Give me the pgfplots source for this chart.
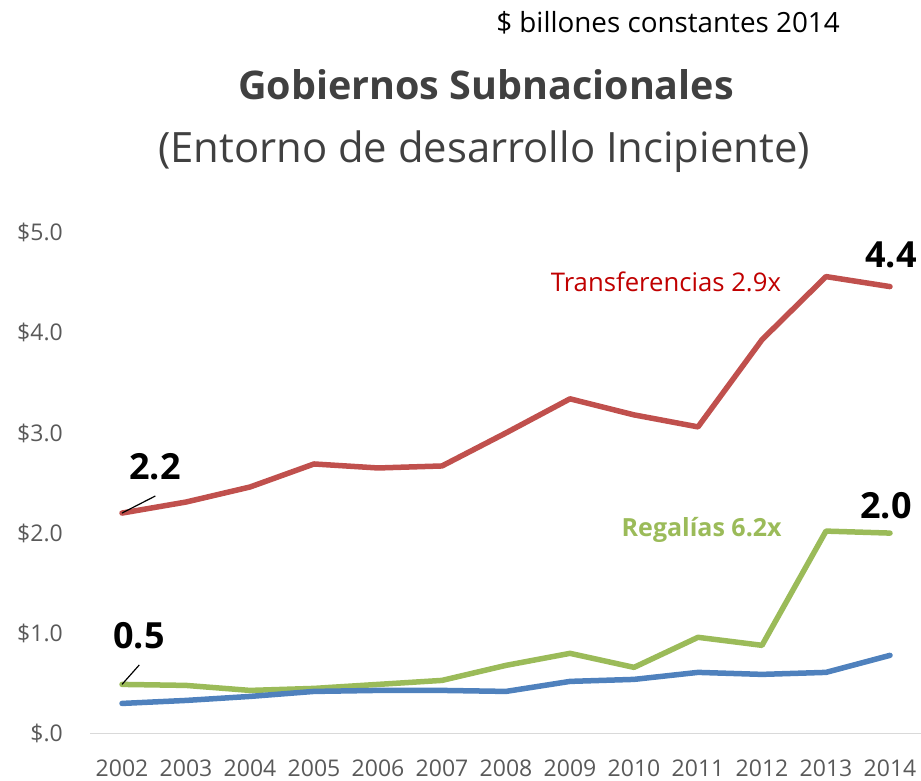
\documentclass[border=0pt]{standalone}
\usepackage{pgfplots}
\pgfplotsset{compat=1.18}
\usepackage{fontspec}
\setmainfont{Open Sans}
\definecolor{cred}{HTML}{C0504D}
\definecolor{cgreen}{HTML}{9BBB59}
\definecolor{cblue}{HTML}{4F81BD}
\definecolor{ctick}{HTML}{595959}
\definecolor{ctitle}{HTML}{404040}
\definecolor{clabred}{HTML}{C00000}
\definecolor{caxis}{HTML}{D9D9D9}
\begin{document}
\begin{tikzpicture}
\path[use as bounding box] (0pt,0pt) rectangle (921pt,780pt);
\node[anchor=base, inner sep=0pt, font=\fontsize{27.8}{32}\selectfont] at (668pt,747pt) {\$ billones constantes 2014};
\node[anchor=base, inner sep=0pt, text=ctitle, font=\fontsize{39.5}{46}\selectfont\bfseries] at (486pt,680pt) {Gobiernos Subnacionales};
\node[anchor=base, inner sep=0pt, text=ctitle, font=\fontsize{41.8}{48}\selectfont] at (484pt,617pt) {(Entorno de desarrollo Incipiente)};
\begin{axis}[
  at={(90pt,46.5pt)}, anchor=south west,
  scale only axis, width=832pt, height=501pt,
  xmin=2001.5, xmax=2014.5, ymin=0, ymax=5,
  axis x line*=bottom, axis y line*=left,
  x axis line style={draw=caxis, line width=1.5pt, -},
  y axis line style={draw=none},
  major tick length=0pt,
  xtick={2002,2003,2004,2005,2006,2007,2008,2009,2010,2011,2012,2013,2014},
  xticklabels={2002,2003,2004,2005,2006,2007,2008,2009,2010,2011,2012,2013,2014},
  ytick={0,1,2,3,4,5},
  yticklabels={\$.0,\$1.0,\$2.0,\$3.0,\$4.0,\$5.0},
  tick label style={text=ctick, font=\fontsize{23}{28}\selectfont, inner sep=0pt},
  xticklabel style={anchor=base, yshift=-42.5pt},
  yticklabel style={anchor=base east, xshift=-27pt, yshift=-8.2pt},
  clip=false,
]
\addplot[cred, line width=5.5pt, line join=round, line cap=round] coordinates {
 (2002,2.20) (2003,2.31) (2004,2.46) (2005,2.69) (2006,2.65) (2007,2.67)
 (2008,3.00) (2009,3.34) (2010,3.18) (2011,3.06) (2012,3.93) (2013,4.56) (2014,4.46)};
\addplot[cgreen, line width=5.5pt, line join=round, line cap=round] coordinates {
 (2002,0.49) (2003,0.48) (2004,0.43) (2005,0.45) (2006,0.49) (2007,0.53)
 (2008,0.68) (2009,0.80) (2010,0.66) (2011,0.96) (2012,0.88) (2013,2.02) (2014,2.00)};
\addplot[cblue, line width=5.5pt, line join=round, line cap=round] coordinates {
 (2002,0.30) (2003,0.33) (2004,0.37) (2005,0.42) (2006,0.43) (2007,0.43)
 (2008,0.42) (2009,0.52) (2010,0.54) (2011,0.61) (2012,0.59) (2013,0.61) (2014,0.78)};
\draw[black, line width=1.2pt] (axis cs:2002,2.2) -- (axis cs:2002.52,2.37);
\draw[black, line width=1.2pt] (axis cs:2002,0.49) -- (axis cs:2002.27,0.684);
\node[anchor=base west, inner sep=0pt, font=\fontsize{36}{42}\selectfont\bfseries] at (axis cs:2002.11,2.53) {2.2};
\node[anchor=base west, inner sep=0pt, font=\fontsize{36}{42}\selectfont\bfseries] at (axis cs:2001.86,0.853) {0.5};
\node[anchor=base east, inner sep=0pt, font=\fontsize{36}{42}\selectfont\bfseries] at (axis cs:2014.42,4.646) {4.4};
\node[anchor=base east, inner sep=0pt, font=\fontsize{36}{42}\selectfont\bfseries] at (axis cs:2014.34,2.15) {2.0};
\node[anchor=base east, inner sep=0pt, text=clabred, font=\fontsize{25.7}{30}\selectfont] at (axis cs:2012.30,4.416) {Transferencias 2.9x};
\node[anchor=base east, inner sep=0pt, text=cgreen, font=\fontsize{25}{30}\selectfont\bfseries] at (axis cs:2012.31,1.971) {Regalías 6.2x};
\end{axis}
\end{tikzpicture}
\end{document}
